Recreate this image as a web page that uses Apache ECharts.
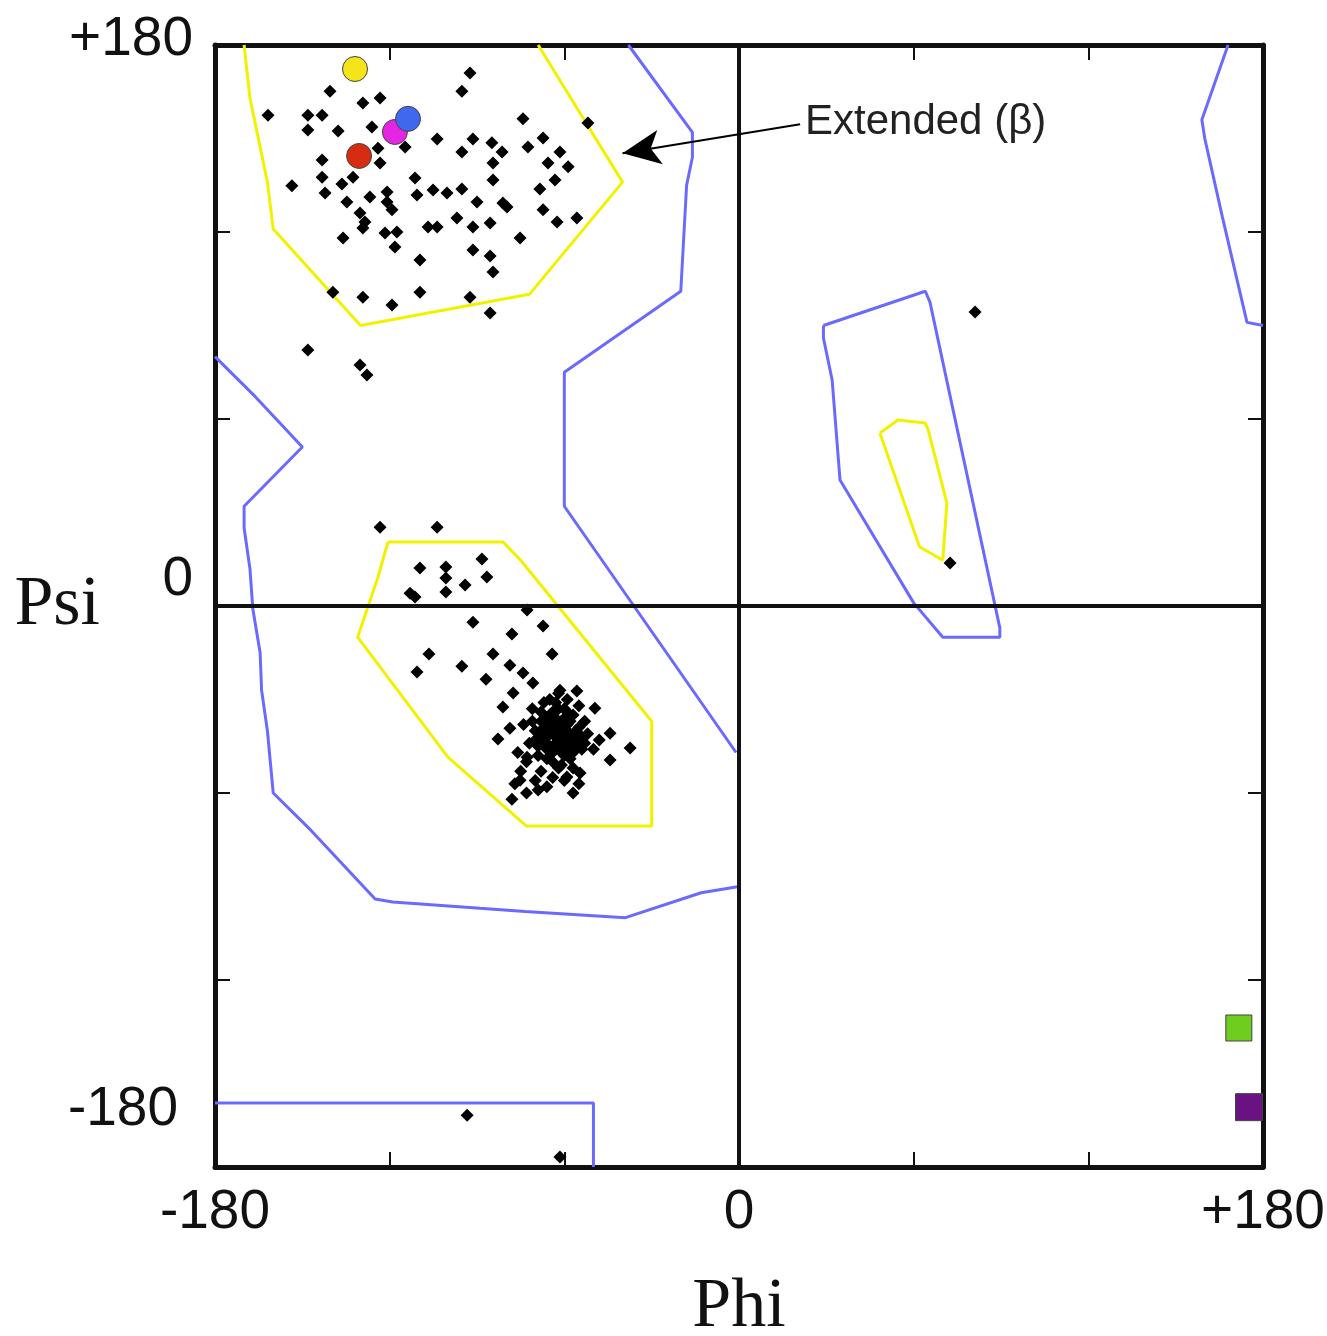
<!DOCTYPE html>
<html>
<head>
<meta charset="utf-8">
<title>Ramachandran plot</title>
<script src="https://cdn.jsdelivr.net/npm/echarts/dist/echarts.min.js"></script>
<style>
  html, body { margin: 0; padding: 0; background: #fff; }
  #chart { width: 1327px; height: 1336px; }
</style>
</head>
<body>
<div id="chart"></div>
<script>
// axis ticks: only these get a label
const tickValues = [-180, 0, 180];
const xTickText = ['-180', '0', '+180'];
const yTickText = ['-180', '0', '+180'];

// contour outlines [phi, psi]
const yellowBeta = [[-170, 180], [-168, 163], [-162, 136], [-160, 121], [-130, 90], [-72, 100], [-40, 136], [-69, 180]];
const yellowAlpha = [[-120.6, 20.5], [-81, 20.5], [-75, 14.7], [-30, -37], [-30, -70.6], [-73, -70.6], [-100, -48.5], [-131, -10], [-124, 9.3], [-120.6, 20.5]];
const yellowLeft = [[48.4, 55.5], [54.6, 59.7], [64, 58.7], [65, 56.5], [71.4, 33], [70, 14.7], [62, 19], [48.4, 55.5]];
const blueTop = [[-38, 180], [-16, 152], [-16, 144], [-18, 135], [-20, 101], [-60, 75], [-60, 32], [-1, -47]];
const blueLeft = [[-180, 80], [-166, 67], [-150, 51], [-170, 32], [-170, 25], [-168, 12], [-167, -1], [-164.5, -15], [-164, -27], [-162, -40], [-160, -60], [-147, -72], [-125, -94], [-119, -95], [-89, -97], [-73.5, -98], [-39, -100], [-13, -92], [0, -90]];
const blueEdge = [[168, 180], [159, 156], [160, 150], [166, 125], [174.5, 91], [180, 90]];
const blueBottom = [[-180, -159.5], [-50, -159.5], [-50, -180]];
const blueLeftHanded = [[29, 90], [64, 101], [65.6, 97.5], [89.6, -7], [89.6, -10], [70, -10], [60, 1], [34.7, 40.4], [32, 72.5], [29, 86], [29, 90]];

// residues
const betaPoints = [
  [-92.4, 171], [-95.2, 165.2], [-140.5, 165.2], [-129.2, 161.4], [-123.3, 163], [-161.8, 157.5], [-148.1, 157.5],
  [-143.2, 157.5], [-148.1, 152.7], [-137.7, 152.4], [-126.1, 153.7], [-74.2, 156.3], [-51.9, 155], [-103.7, 149.8],
  [-114.7, 147.3], [-124, 146.9], [-123.3, 142.1], [-91.4, 149.8], [-84.9, 148.6], [-81.4, 145.7], [-95.2, 145.7],
  [-72.5, 147.3], [-67.3, 150.2], [-61.5, 145.7], [-84.5, 142.1], [-65.6, 142.1], [-58.7, 140.9], [-143.2, 143.1],
  [-143.2, 137.6], [-153.6, 134.8], [-136.4, 135.4], [-132.6, 137.6], [-142.2, 132.5], [-134.7, 129.6], [-126.8, 131.2],
  [-120.9, 132.8], [-120.9, 129.6], [-119.2, 127.1], [-111.3, 137.3], [-110.6, 131.9], [-105.1, 133.5], [-100.3, 132.5],
  [-95.2, 133.8], [-84.5, 136.7], [-63.2, 136.7], [-68.4, 133.8], [-90, 129.6], [-81.1, 129.3], [-79.7, 128],
  [-67.3, 127.1], [-62.5, 123.2], [-55.7, 124.5], [-130.2, 126.1], [-128.5, 123.2], [-129.2, 121.3], [-136, 118.1],
  [-121.6, 119.7], [-117.5, 120], [-118.2, 115.2], [-106.8, 121.6], [-103.7, 121.6], [-96.9, 124.5], [-91.4, 121.6],
  [-85.5, 122.9], [-75.2, 118.1], [-109.6, 111], [-91.4, 114.2], [-85.5, 112.3], [-84.5, 107.2], [-139.5, 100.7],
  [-129.2, 99.1], [-119.2, 96.6], [-109.6, 100.7], [-92.4, 99.1], [-85.5, 94], [-148.1, 82.1], [-130.2, 77.3],
  [-127.8, 74.1]
];
const alphaPoints = [
  [-123.3, 25.3], [-103.7, 25.3], [-109.6, 12.2], [-100.7, 12.5], [-100.7, 9], [-100.7, 4.5], [-94.1, 6.7],
  [-88.3, 15.1], [-86.6, 9.3], [-113, 4.1], [-111.3, 2.9], [-72.8, -1.3], [-91.4, -5.2], [-67.3, -6.4], [-78, -9],
  [-106.5, -15.4], [-84.5, -15.4], [-64.2, -15.4], [-110.6, -21.2], [-95.2, -19.3], [-86.9, -23.5], [-78.7, -19],
  [-74.2, -21.5], [-70.8, -24.7], [-55.7, -27.3], [-61.5, -27], [-77.6, -27.9], [-81.1, -32.4], [-49.5, -32.8],
  [-78.7, -39.2], [-82.8, -42.7], [-44.3, -40.8], [-37.4, -45.6], [-44.3, -49.4], [-72.8, -48.5], [-75.2, -55.9],
  [-59.1, -54.9], [-54.6, -53.6],
  [-63, -39], [-60, -36], [-66, -42], [-58, -41], [-68, -37], [-62, -33], [-65, -45], [-57, -35], [-70, -40],
  [-61, -47], [-55, -39], [-67, -31], [-59, -30], [-72, -44], [-64, -50], [-56, -44], [-53, -37], [-69, -48],
  [-60, -42], [-66, -36], [-62, -28], [-58, -49], [-74, -38], [-54, -46], [-71, -33], [-63, -44], [-65, -30],
  [-57, -52], [-68, -53], [-61, -37], [-52, -41], [-76, -47], [-64, -34], [-59, -45], [-67, -43], [-55, -32],
  [-62, -52], [-70, -56], [-66, -58], [-60, -56], [-55, -57], [-73, -60], [-78, -62], [-57, -60],
  [-64, -38], [-61, -40], [-59, -38], [-63, -42], [-66, -39], [-62, -45], [-60, -33], [-57, -43], [-65, -35],
  [-68, -41], [-64, -47], [-58, -37], [-61, -43], [-66, -46], [-69, -45], [-56, -40], [-63, -36], [-60, -48],
  [-67, -39], [-62, -41], [-58, -46], [-65, -41], [-70, -43], [-54, -42], [-59, -34], [-63, -31], [-68, -34],
  [-71, -37], [-57, -47], [-61, -51], [-66, -49], [-53, -44], [-50, -46], [-48, -43], [-73, -50], [-75, -53],
  [-77, -57], [-69, -59], [-64, -55]
];
const otherPoints = [[81.1, 94.3], [72.5, 13.8], [-93.4, -163.4], [-61.5, -176.8]];

// highlighted residues
const yellowResidue = [[-131.9, 172.3]];
const blueResidue = [[-113.7, 156.3]];
const magentaResidue = [[-118.2, 152.1]];
const redResidue = [[-130.5, 144.4]];
const greenResidue = [[171.7, -135.4]];
const purpleResidue = [[175.2, -160.8]];

// annotation arrow, from label to region
const arrowFrom = [21, 154.6];
const arrowTo = [-40, 145.3];

const chart = echarts.init(document.getElementById('chart'));

const labelFont = 'Liberation Sans';

function xAxisDef(pos, showLabel) {
  return {
    type: 'value', min: -180, max: 180, interval: 60, position: pos,
    name: showLabel ? 'Phi' : '', nameLocation: 'middle', nameGap: 106,
    nameTextStyle: { fontFamily: 'Liberation Serif', fontSize: 70, color: '#111' },
    axisLine: { onZero: false, lineStyle: { color: '#111', width: 5 } },
    axisTick: { inside: true, length: 15, lineStyle: { color: '#111', width: 2 } },
    splitLine: { show: false },
    axisLabel: {
      show: showLabel, showMinLabel: true, showMaxLabel: true, margin: 18,
      fontFamily: labelFont, fontSize: 55, color: '#111',
      formatter: v => { const i = tickValues.indexOf(v); return i < 0 ? '' : xTickText[i]; }
    }
  };
}

const yRich = {
  lo: { fontFamily: labelFont, fontSize: 55, color: '#111', padding: [0, 15, 114, 0] },
  mid: { fontFamily: labelFont, fontSize: 55, color: '#111', padding: [0, 0, 52, 0] },
  hi: { fontFamily: labelFont, fontSize: 55, color: '#111', padding: [0, 0, 10, 0] }
};
const yKeys = ['lo', 'mid', 'hi'];

function yAxisDef(pos, showLabel) {
  return {
    type: 'value', min: -180, max: 180, interval: 60, position: pos,
    name: showLabel ? 'Psi' : '', nameLocation: 'middle', nameRotate: 0, nameGap: 115,
    nameMoveOverlap: false,
    nameTextStyle: { fontFamily: 'Liberation Serif', fontSize: 70, color: '#111' },
    axisLine: { onZero: false, lineStyle: { color: '#111', width: 5 } },
    axisTick: { inside: true, length: 15, lineStyle: { color: '#111', width: 2 } },
    splitLine: { show: false },
    axisLabel: {
      show: showLabel, showMinLabel: true, showMaxLabel: true, margin: 22,
      rich: yRich,
      formatter: v => { const i = tickValues.indexOf(v); return i < 0 ? '' : '{' + yKeys[i] + '|' + yTickText[i] + '}'; }
    }
  };
}

function contour(data, color) {
  return {
    type: 'line', data: data, showSymbol: false, symbol: 'none', silent: true,
    lineStyle: { color: color, width: 3 }, z: 2
  };
}

function residue(data, color, symbol, size) {
  return {
    type: 'scatter', data: data, symbol: symbol, symbolSize: size, silent: true, z: 5,
    itemStyle: { color: color, opacity: 1, borderColor: '#444', borderWidth: 1 }
  };
}

const BLUE = '#6a6aff';
const YELLOW = '#f2f200';

chart.setOption({
  animation: false,
  backgroundColor: '#fff',
  grid: { left: 215, right: 64, top: 45, bottom: 169, containLabel: false, outerBoundsMode: 'none' },
  xAxis: [xAxisDef('bottom', true), xAxisDef('top', false)],
  yAxis: [yAxisDef('left', true), yAxisDef('right', false)],
  graphic: [{
    type: 'text', left: 805, top: 101,
    style: { text: 'Extended (β)', fontFamily: labelFont, fontSize: 42, fill: '#222' }
  }],
  series: [
    contour(yellowBeta, YELLOW),
    contour(yellowAlpha, YELLOW),
    contour(yellowLeft, YELLOW),
    contour(blueTop, BLUE),
    Object.assign(contour(blueLeft, BLUE), {
      markLine: {
        silent: true, symbol: ['none', 'none'], label: { show: false },
        lineStyle: { color: '#111', width: 4, type: 'solid' },
        data: [{ xAxis: 0 }, { yAxis: 0 }]
      }
    }),
    contour(blueEdge, BLUE),
    contour(blueBottom, BLUE),
    contour(blueLeftHanded, BLUE),
    {
      type: 'scatter', data: betaPoints.concat(alphaPoints, otherPoints),
      symbol: 'diamond', symbolSize: 13, silent: true, z: 4,
      itemStyle: { color: '#000', opacity: 1 },
      markLine: {
        silent: true, label: { show: false },
        lineStyle: { color: '#000', width: 2, type: 'solid' },
        data: [[
          { coord: arrowFrom, symbol: 'none' },
          { coord: arrowTo, symbol: 'arrow', symbolSize: [26, 38] }
        ]]
      }
    },
    residue(yellowResidue, '#f6e41a', 'circle', 25),
    residue(redResidue, '#d52c12', 'circle', 25),
    residue(magentaResidue, '#e425e4', 'circle', 25),
    residue(blueResidue, '#3f68ef', 'circle', 25),
    residue(greenResidue, '#6fcd1f', 'rect', 26),
    residue(purpleResidue, '#6a1282', 'rect', 27)
  ]
});
</script>
</body>
</html>
